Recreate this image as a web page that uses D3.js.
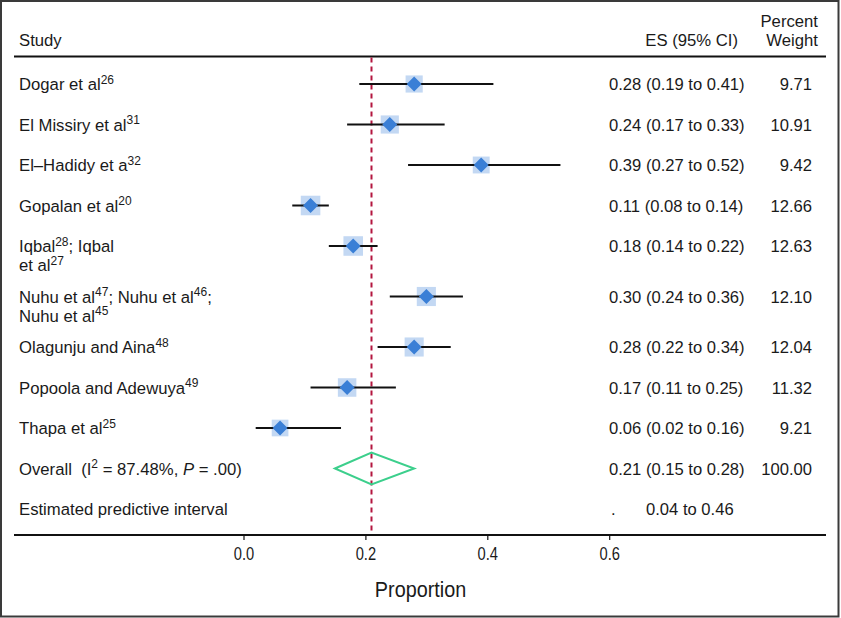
<!DOCTYPE html>
<html>
<head>
<meta charset="utf-8">
<script src="https://cdn.jsdelivr.net/npm/d3@7"></script>
<style>
  html, body { margin: 0; padding: 0; background: #fff; }
  svg { display: block; }
  text { font-family: "Liberation Sans", Arial, Helvetica, sans-serif; fill: #1a1a1a; }
</style>
</head>
<body>
<svg id="chart" width="841" height="618"></svg>
<script>
// ---------- data ----------
// each study label: list of lines; each line: list of [text, superscript]
const studyLabels = [
  [[["Dogar et al", "26"]]],
  [[["El Missiry et al", "31"]]],
  [[["El\u2013Hadidy et a", "32"]]],
  [[["Gopalan et al", "20"]]],
  [[["Iqbal", "28"], ["; Iqbal", ""]], [["et al", "27"]]],
  [[["Nuhu et al", "47"], ["; Nuhu et al", "46"], [";", ""]], [["Nuhu et al", "45"]]],
  [[["Olagunju and Aina", "48"]]],
  [[["Popoola and Adewuya", "49"]]],
  [[["Thapa et al", "25"]]]
];
const esValues = [0.28, 0.24, 0.39, 0.11, 0.18, 0.30, 0.28, 0.17, 0.06];
const ciLower  = [0.19, 0.17, 0.27, 0.08, 0.14, 0.24, 0.22, 0.11, 0.02];
const ciUpper  = [0.41, 0.33, 0.52, 0.14, 0.22, 0.36, 0.34, 0.25, 0.16];
const weights  = [9.71, 10.91, 9.42, 12.66, 12.63, 12.10, 12.04, 11.32, 9.21];
const esLabels = ["0.28 (0.19 to 0.41)", "0.24 (0.17 to 0.33)", "0.39 (0.27 to 0.52)",
                  "0.11 (0.08 to 0.14)", "0.18 (0.14 to 0.22)", "0.30 (0.24 to 0.36)",
                  "0.28 (0.22 to 0.34)", "0.17 (0.11 to 0.25)", "0.06 (0.02 to 0.16)"];
const weightLabels = ["9.71", "10.91", "9.42", "12.66", "12.63", "12.10", "12.04", "11.32", "9.21"];
const overallES = 0.21, overallLo = 0.15, overallHi = 0.28;
const overallLabel = "0.21 (0.15 to 0.28)", overallWeight = "100.00";
const overallI2 = "87.48%", overallP = ".00";
const predictiveLabel = "0.04 to 0.46";
const xTicks = [0, 0.2, 0.4, 0.6];
const xTitle = "Proportion";

// ---------- layout ----------
const svg = d3.select("#chart");
const lineLeft = 14, lineRight = 826;
const headerY = 56.5, axisY = 535;
const labelX = 19, esX = 609, weightX = 812;
const rowStep = 40.5, extraStep = 10, firstRowY = 84;
const fs = 16.7, numFs = 16.6, supFs = 12, supDy = 6.5;

const x = d3.scaleLinear().domain([0, 0.6]).range([243.5, 609.2]);

// row positions from line counts
const rowY = [];
let acc = firstRowY;
studyLabels.forEach(lab => {
  rowY.push(acc);
  acc += rowStep + (lab.length > 1 ? extraStep : 0);
});
const overallY = acc;
const predY = acc + rowStep;

// outer frame
svg.append("rect").attr("x", 1).attr("y", 1).attr("width", 837.5).attr("height", 615.5)
  .attr("fill", "none").attr("stroke", "#3a3a3a").attr("stroke-width", 2);

// header
svg.append("text").attr("x", labelX).attr("y", 46).attr("font-size", fs).text("Study");
svg.append("text").attr("x", 738).attr("y", 46).attr("font-size", fs).attr("text-anchor", "end").text("ES (95% CI)");
svg.append("text").attr("x", 818).attr("y", 26.5).attr("font-size", fs).attr("text-anchor", "end").text("Percent");
svg.append("text").attr("x", 818).attr("y", 46).attr("font-size", fs).attr("text-anchor", "end").text("Weight");

svg.append("line").attr("x1", lineLeft).attr("x2", lineRight).attr("y1", headerY).attr("y2", headerY)
  .attr("stroke", "#111").attr("stroke-width", 2);

// dashed overall line
svg.append("line").attr("x1", x(overallES)).attr("x2", x(overallES))
  .attr("y1", headerY + 1).attr("y2", axisY)
  .attr("stroke", "#b3163f").attr("stroke-width", 2).attr("stroke-dasharray", "5,4");

// study labels
studyLabels.forEach((lines, i) => {
  lines.forEach((segs, li) => {
    const t = svg.append("text").attr("x", labelX).attr("y", rowY[i] + 6 + li * 19).attr("font-size", fs);
    let pending = 0;
    segs.forEach(([txt, sup]) => {
      t.append("tspan").attr("dy", pending).text(txt);
      pending = 0;
      if (sup) {
        t.append("tspan").attr("font-size", supFs).attr("dy", -supDy).text(sup);
        pending = supDy;
      }
    });
  });
});

const g = svg.append("g");
// weight squares
const side = w => 5.5 * Math.sqrt(w);
g.selectAll("rect.wt").data(esValues).join("rect").attr("class", "wt")
  .attr("x", (d, i) => x(d) - side(weights[i]) / 2)
  .attr("y", (d, i) => rowY[i] - side(weights[i]) / 2)
  .attr("width", (d, i) => side(weights[i])).attr("height", (d, i) => side(weights[i]))
  .attr("fill", "#c3d8f3");

// CI lines
g.selectAll("line.ci").data(esValues).join("line").attr("class", "ci")
  .attr("x1", (d, i) => x(ciLower[i])).attr("x2", (d, i) => x(ciUpper[i]))
  .attr("y1", (d, i) => rowY[i]).attr("y2", (d, i) => rowY[i])
  .attr("stroke", "#111").attr("stroke-width", 2);

// point diamonds
const dm = 7.5;
g.selectAll("path.pt").data(esValues).join("path").attr("class", "pt")
  .attr("d", (d, i) => {
    const cx = x(d), cy = rowY[i];
    return `M${cx - dm},${cy}L${cx},${cy - dm}L${cx + dm},${cy}L${cx},${cy + dm}Z`;
  })
  .attr("fill", "#3a7fd6");

// ES and weight text
svg.selectAll("text.es").data(esLabels).join("text").attr("class", "es")
  .attr("x", esX).attr("y", (d, i) => rowY[i] + 6).attr("font-size", numFs).text(d => d);
svg.selectAll("text.wl").data(weightLabels).join("text").attr("class", "wl")
  .attr("x", weightX).attr("y", (d, i) => rowY[i] + 6).attr("font-size", numFs)
  .attr("text-anchor", "end").text(d => d);

// overall row
const ot = svg.append("text").attr("x", labelX).attr("y", overallY + 6).attr("font-size", fs);
ot.append("tspan").text("Overall\u00a0\u00a0(I");
ot.append("tspan").attr("font-size", supFs).attr("dy", -supDy).text("2");
ot.append("tspan").attr("dy", supDy).text(" = " + overallI2 + ", ");
ot.append("tspan").attr("font-style", "italic").text("P");
ot.append("tspan").text(" = " + overallP + ")");

svg.append("path")
  .attr("d", `M${x(overallLo)},${overallY}L${x(overallES)},${overallY - 16}L${x(overallHi)},${overallY}L${x(overallES)},${overallY + 16}Z`)
  .attr("fill", "none").attr("stroke", "#3ccf8c").attr("stroke-width", 2);

svg.append("text").attr("x", esX).attr("y", overallY + 6).attr("font-size", numFs).text(overallLabel);
svg.append("text").attr("x", weightX).attr("y", overallY + 6).attr("font-size", numFs)
  .attr("text-anchor", "end").text(overallWeight);

// predictive interval row
svg.append("text").attr("x", labelX).attr("y", predY + 6).attr("font-size", fs).text("Estimated predictive interval");
svg.append("text").attr("x", esX + 2).attr("y", predY + 6).attr("font-size", numFs).text(".");
svg.append("text").attr("x", 646).attr("y", predY + 6).attr("font-size", numFs).text(predictiveLabel);

// axis
svg.append("line").attr("x1", lineLeft).attr("x2", lineRight).attr("y1", axisY).attr("y2", axisY)
  .attr("stroke", "#111").attr("stroke-width", 2);
const axis = svg.append("g").attr("transform", `translate(0,${axisY})`)
  .call(d3.axisBottom(x).tickValues(xTicks).tickFormat(d3.format(".1f")).tickSize(5).tickPadding(8));
axis.select(".domain").remove();
axis.selectAll(".tick line").attr("stroke", "#111").attr("stroke-width", 1.2);
axis.selectAll(".tick text").attr("font-size", 17.5).attr("fill", "#1a1a1a")
  .attr("font-family", "'Liberation Sans', Arial, sans-serif")
  .attr("transform", "scale(0.84,1)");

svg.append("text").attr("transform", `translate(420.5,597) scale(0.88,1)`)
  .attr("text-anchor", "middle").attr("font-size", 22.5).text(xTitle);
</script>
</body>
</html>
